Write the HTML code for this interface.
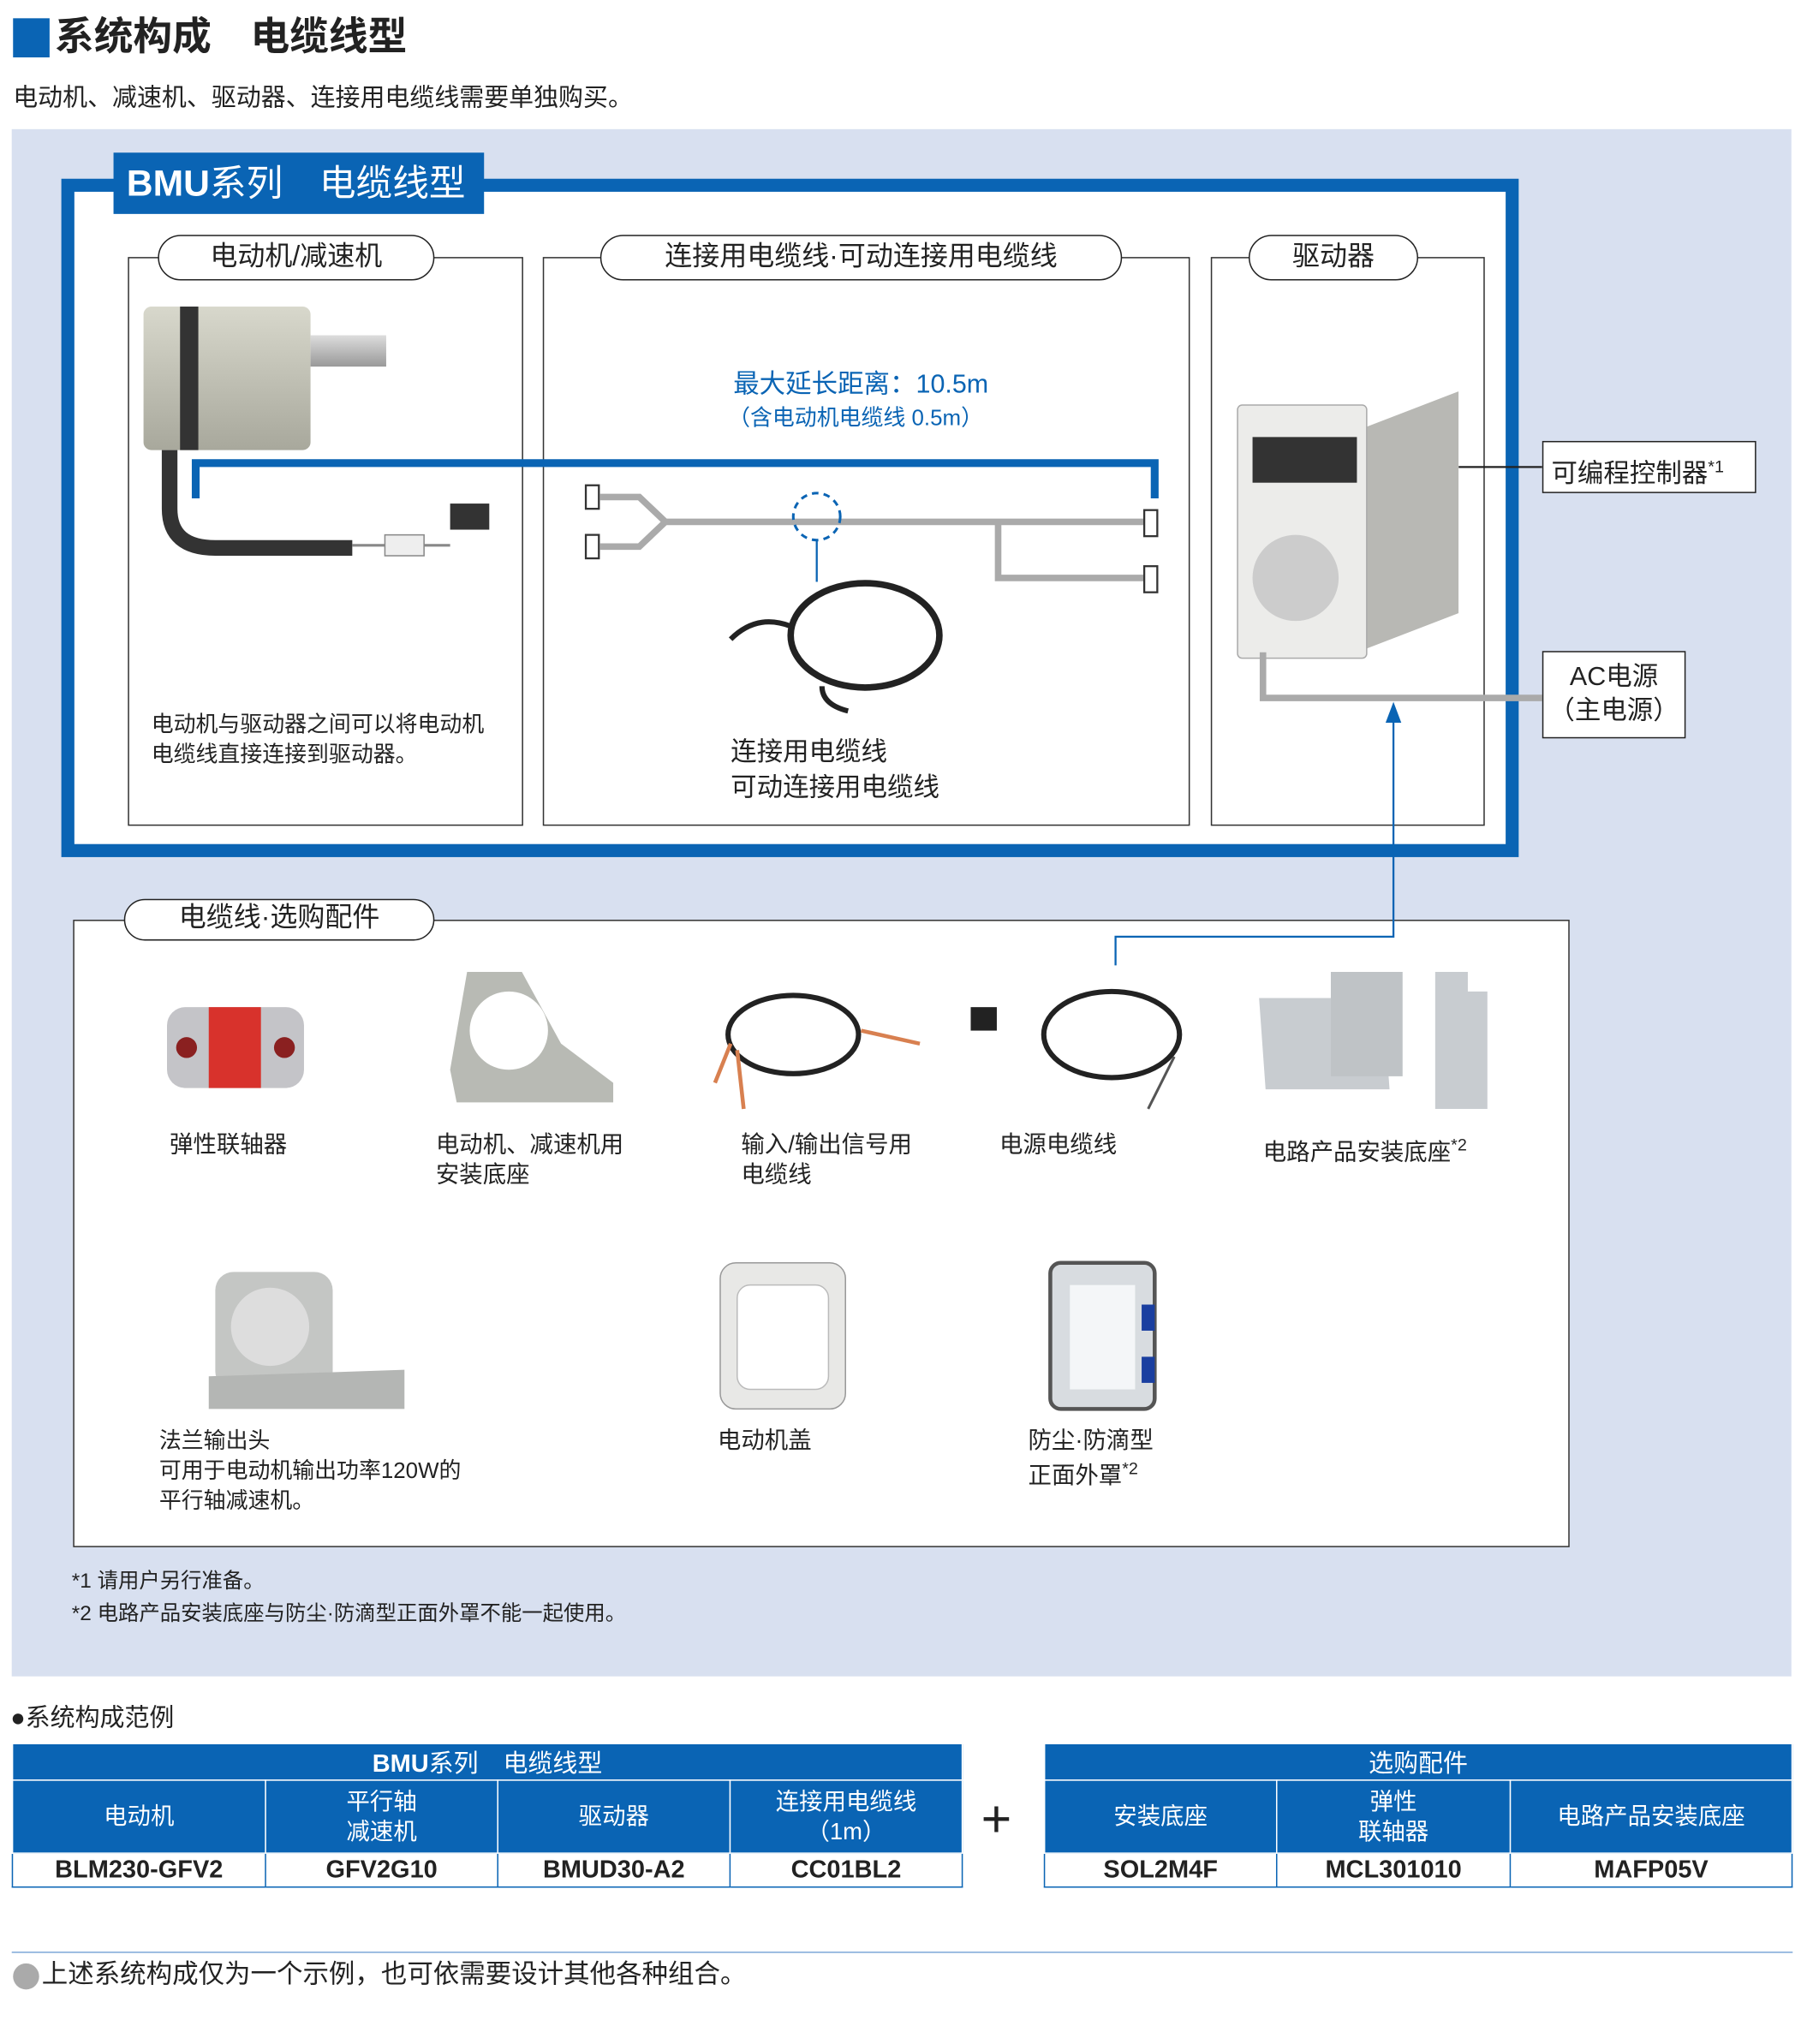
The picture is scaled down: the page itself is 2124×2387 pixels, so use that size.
<!DOCTYPE html>
<html><head><meta charset="utf-8">
<style>
*{margin:0;padding:0;box-sizing:border-box}
html,body{width:2124px;height:2387px;overflow:hidden;background:#fff}
#w{position:absolute;left:0;top:0;width:1394px;height:1567px;transform:scale(1.5235);transform-origin:0 0;font-family:"Liberation Sans","Noto Sans CJK SC",sans-serif;color:#222}
.a{position:absolute}
.pill{position:absolute;background:#fff;border:1.5px solid #222;border-radius:18px;text-align:center;font-size:21px;line-height:31px}
.box{position:absolute;border:1.5px solid #333;background:#fff}
.t{position:absolute;font-size:17px;line-height:23px;white-space:nowrap}
table{position:absolute;border-collapse:collapse;font-size:18px;text-align:center}
td{border:1.5px solid #0a64b4}
.h td{background:#0a64b4;color:#fff;border-color:#fff #fff #fff #fff}
.b td{font-weight:bold;font-size:19px;height:26px;border-color:#0a64b4}
</style></head><body><div id="w">
<div class="a" style="left:10px;top:14px;width:28px;height:30px;background:#0a64b4"></div>
<div class="a" style="left:42px;top:10px;font-size:30px;font-weight:bold;line-height:38px">系统构成　电缆线型</div>
<div class="a" style="left:10px;top:63px;font-size:19px;line-height:26px">电动机、减速机、驱动器、连接用电缆线需要单独购买。</div>
<div class="a" style="left:9px;top:99px;width:1364px;height:1186px;background:#d8e0f0"></div>
<div class="a" style="left:47px;top:137px;width:1117px;height:520px;border:10px solid #0a64b4;background:#fff"></div>
<div class="a" style="left:87px;top:117px;width:284px;height:47px;background:#0a64b4;color:#fff;font-size:28px;line-height:47px;padding-left:10px"><b>BMU</b>系列　电缆线型</div>
<div class="box" style="left:98px;top:197px;width:303px;height:436px"></div>
<div class="box" style="left:416px;top:197px;width:496px;height:436px"></div>
<div class="box" style="left:928px;top:197px;width:210px;height:436px"></div>
<div class="pill" style="left:121px;top:180px;width:212px;height:35px">电动机/减速机</div>
<div class="pill" style="left:460px;top:180px;width:400px;height:35px">连接用电缆线·可动连接用电缆线</div>
<div class="pill" style="left:957px;top:180px;width:130px;height:35px">驱动器</div>
<div class="box" style="left:56px;top:705px;width:1147px;height:481px"></div>
<div class="pill" style="left:95px;top:689px;width:238px;height:32px;line-height:28px">电缆线·选购配件</div>
<!-- motor -->
<div class="a" style="left:110px;top:235px;width:128px;height:110px;background:linear-gradient(#d8d8cc,#a8a89c);border-radius:6px"></div>
<div class="a" style="left:138px;top:235px;width:14px;height:110px;background:#333"></div>
<div class="a" style="left:238px;top:257px;width:58px;height:24px;background:linear-gradient(#ddd,#999)"></div>
<!-- driver -->
<div class="a" style="left:1040px;top:300px;width:78px;height:200px;background:#b8b8b4;clip-path:polygon(0 15%,100% 0,100% 85%,0 100%)"></div>
<div class="a" style="left:948px;top:310px;width:100px;height:195px;background:#ececea;border:1px solid #aaa;border-radius:4px"></div>
<div class="a" style="left:960px;top:335px;width:80px;height:35px;background:#333"></div>
<div class="a" style="left:960px;top:410px;width:66px;height:66px;border-radius:50%;background:#ccc"></div>
<svg class="a" style="left:0;top:0" width="1384" height="1556">
<path d="M130 345 V390 Q130 420 165 420 H270" stroke="#333" stroke-width="12" fill="none"/>
<path d="M270 418 H345" stroke="#888" stroke-width="2" fill="none"/>
<rect x="295" y="410" width="30" height="16" fill="#eee" stroke="#888"/>
<rect x="345" y="386" width="30" height="20" fill="#333"/>
<path d="M150 382 V355 H885 V382" stroke="#0a64b4" stroke-width="6" fill="none"/>
<g stroke="#aaa" stroke-width="5" fill="none">
<path d="M460 381 H490 L510 400 H880"/><path d="M460 419 H490 L510 400"/>
<path d="M765 400 V443 H880"/>
<path d="M968 500 V535 H1182"/>
</g>
<g fill="#fff" stroke="#333" stroke-width="1.5">
<rect x="449" y="372" width="10" height="18"/><rect x="449" y="410" width="10" height="18"/>
<rect x="877" y="391" width="10" height="20"/><rect x="877" y="434" width="10" height="20"/>
</g>
<circle cx="626" cy="396" r="18" stroke="#0a64b4" stroke-width="2" stroke-dasharray="5 4" fill="none"/>
<path d="M626 414 V446" stroke="#0a64b4" stroke-width="1.5"/>
<ellipse cx="663" cy="487" rx="57" ry="40" stroke="#222" stroke-width="5" fill="none"/>
<path d="M606 480 Q580 470 560 490 M630 526 Q630 540 650 545" stroke="#222" stroke-width="4" fill="none"/>
<path d="M1118 358 H1182" stroke="#222" stroke-width="1.5"/>
<path d="M1068 552 V718 H855 V740" stroke="#0a64b4" stroke-width="1.5" fill="none"/>
<path d="M1062 554 L1068 538 L1074 554Z" fill="#0a64b4"/>
<!-- accessories -->
<rect x="128" y="772" width="105" height="62" rx="14" fill="#c4c4c8"/><rect x="160" y="772" width="40" height="62" fill="#d8322c"/>
<circle cx="143" cy="803" r="8" fill="#8a2020"/><circle cx="218" cy="803" r="8" fill="#8a2020"/>
<path d="M358 745 L400 745 L430 800 L470 830 L470 845 L350 845 L345 820 Z" fill="#b8bab4"/>
<circle cx="390" cy="790" r="30" fill="#fff"/>
<ellipse cx="608" cy="793" rx="50" ry="30" stroke="#222" stroke-width="4" fill="none"/>
<path d="M560 800 L548 830 M660 790 L705 800 M565 805 L570 850" stroke="#d88050" stroke-width="3"/>
<ellipse cx="852" cy="793" rx="52" ry="33" stroke="#222" stroke-width="4" fill="none"/>
<path d="M900 810 L880 850" stroke="#555" stroke-width="2"/>
<rect x="744" y="772" width="20" height="18" fill="#222"/>
<path d="M965 765 L1060 765 L1065 835 L970 835" fill="#c8ccd0"/>
<rect x="1020" y="745" width="55" height="80" fill="#bfc3c6"/>
<path d="M1100 745 L1125 745 L1125 760 L1140 760 L1140 850 L1100 850 Z" fill="#c8ccd0"/>
<rect x="165" y="975" width="90" height="90" rx="14" fill="#c4c6c4"/><path d="M160 1055 L310 1050 L310 1080 L160 1080Z" fill="#b4b6b4"/>
<circle cx="207" cy="1017" r="30" fill="#ddd"/>
<rect x="552" y="968" width="96" height="112" rx="12" fill="#e8e8e6" stroke="#999"/><rect x="565" y="985" width="70" height="80" rx="10" fill="#fff" stroke="#bbb"/>
<rect x="805" y="968" width="80" height="112" rx="8" fill="#d8dce0" stroke="#555" stroke-width="3"/><rect x="820" y="985" width="50" height="80" fill="#f4f6f8"/>
<rect x="875" y="1000" width="10" height="20" fill="#1a3fa0"/><rect x="875" y="1040" width="10" height="20" fill="#1a3fa0"/>
</svg>
<div class="t" style="left:562px;top:284px;color:#0a64b4;font-size:20px">最大延长距离：10.5m</div>
<div class="t" style="left:558px;top:309px;color:#0a64b4">（含电动机电缆线 0.5m）</div>
<div class="t" style="left:116px;top:544px">电动机与驱动器之间可以将电动机<br>电缆线直接连接到驱动器。</div>
<div class="t" style="left:560px;top:564px;font-size:20px;line-height:27px">连接用电缆线<br>可动连接用电缆线</div>
<div class="box" style="left:1182px;top:338px;width:164px;height:40px;border-color:#222;font-size:20px;line-height:38px;padding-left:6px">可编程控制器<sup style="font-size:13px">*1</sup></div>
<div class="box" style="left:1182px;top:499px;width:110px;height:67px;border-color:#222;font-size:20px;line-height:26px;text-align:center;padding-top:6px">AC电源<br>（主电源）</div>
<div class="t" style="left:130px;top:866px;font-size:18px">弹性联轴器</div>
<div class="t" style="left:334px;top:866px;font-size:18px">电动机、减速机用<br>安装底座</div>
<div class="t" style="left:568px;top:866px;font-size:18px">输入/输出信号用<br>电缆线</div>
<div class="t" style="left:766px;top:866px;font-size:18px">电源电缆线</div>
<div class="t" style="left:968px;top:866px;font-size:18px">电路产品安装底座<sup style="font-size:13px">*2</sup></div>
<div class="t" style="left:122px;top:1093px;font-size:17px">法兰输出头<br>可用于电动机输出功率120W的<br>平行轴减速机。</div>
<div class="t" style="left:550px;top:1093px;font-size:18px">电动机盖</div>
<div class="t" style="left:788px;top:1093px;font-size:18px;line-height:22px">防尘·防滴型<br>正面外罩<sup style="font-size:13px">*2</sup></div>
<div class="t" style="left:55px;top:1200px;font-size:16px;line-height:25px">*1  请用户另行准备。<br>*2  电路产品安装底座与防尘·防滴型正面外罩不能一起使用。</div>
<div class="t" style="left:8px;top:1306px;font-size:19px">●系统构成范例</div>
<table style="left:9px;top:1336px;width:729px">
<tr class="h"><td colspan="4" style="height:26px;font-size:19px"><b>BMU</b>系列　电缆线型</td></tr>
<tr class="h" style="line-height:23px"><td style="width:194px;height:56px">电动机</td><td style="width:178px">平行轴<br>减速机</td><td style="width:178px">驱动器</td><td>连接用电缆线<br>（1m）</td></tr>
<tr class="b"><td>BLM230-GFV2</td><td>GFV2G10</td><td>BMUD30-A2</td><td>CC01BL2</td></tr>
</table>
<div class="a" style="left:752px;top:1372px;font-size:40px;line-height:46px;font-weight:300">+</div>
<table style="left:800px;top:1336px;width:574px">
<tr class="h"><td colspan="3" style="height:26px;font-size:19px">选购配件</td></tr>
<tr class="h" style="line-height:23px"><td style="width:178px;height:56px">安装底座</td><td style="width:179px">弹性<br>联轴器</td><td>电路产品安装底座</td></tr>
<tr class="b"><td>SOL2M4F</td><td>MCL301010</td><td>MAFP05V</td></tr>
</table>
<div class="a" style="left:9px;top:1496px;width:1365px;height:1px;background:#7fa8d8"></div>
<div class="a" style="left:10px;top:1505px;width:20px;height:20px;border-radius:50%;background:#aaa"></div>
<div class="t" style="left:32px;top:1503px;font-size:20px">上述系统构成仅为一个示例，也可依需要设计其他各种组合。</div>
</div></body></html>
